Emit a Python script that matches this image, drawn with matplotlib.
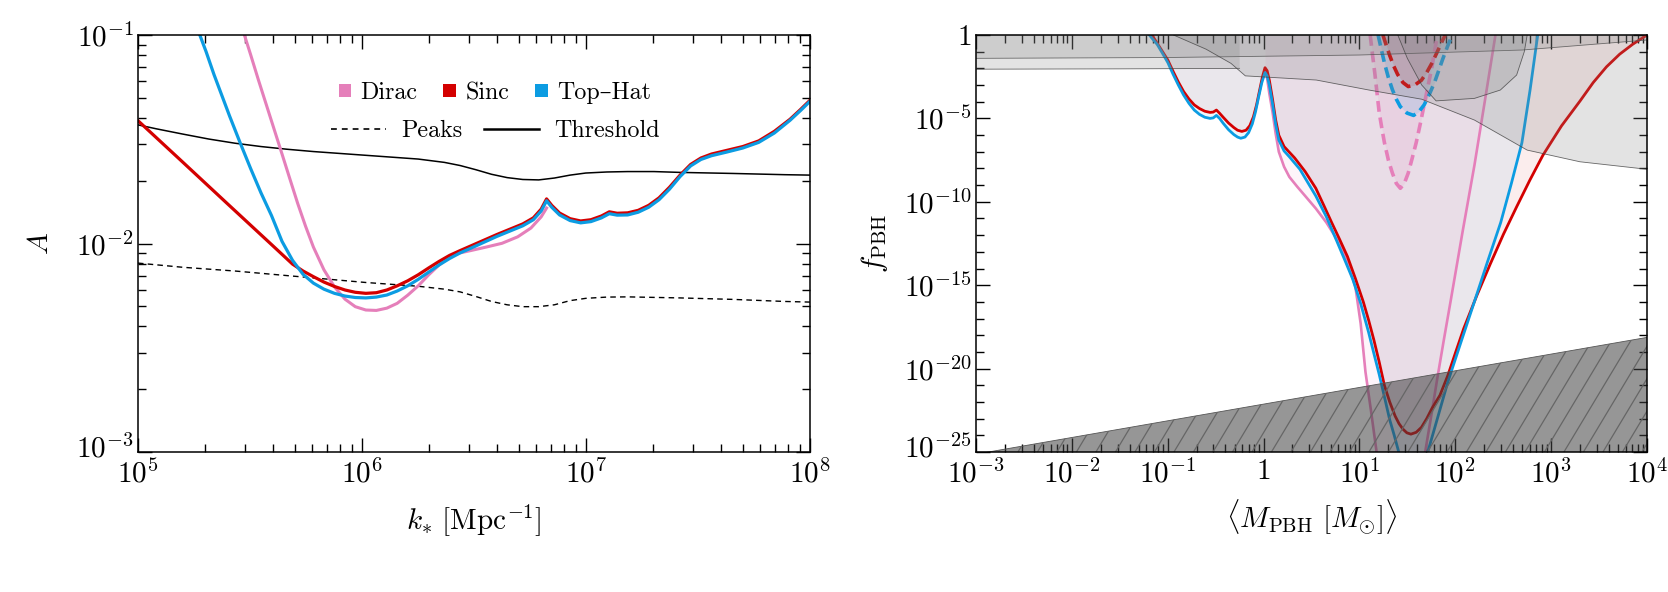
import numpy as np
import matplotlib
matplotlib.use('Agg')
import matplotlib.pyplot as plt
import matplotlib.transforms as mtrans
from matplotlib.patches import Patch
from matplotlib.lines import Line2D
from matplotlib.collections import LineCollection
from matplotlib.ticker import LogLocator, FixedLocator, NullFormatter

plt.rcParams['mathtext.fontset'] = 'cm'
plt.rcParams['font.family'] = ['cmr10', 'DejaVu Serif']
plt.rcParams['axes.formatter.use_mathtext'] = True
plt.rcParams['axes.unicode_minus'] = False

# ---------------- Left panel data (log10 values) -------------
logk_thr = [5.0, 5.082, 5.199, 5.316, 5.433, 5.549, 5.666, 5.783, 5.9, 6.017, 6.134, 6.251, 6.368,
            6.438, 6.508, 6.578, 6.648, 6.718, 6.789, 6.859, 6.929, 6.999, 7.093, 7.186, 7.303,
            7.42, 7.654, 7.888, 8.0]
logA_thr = [-1.431, -1.45, -1.475, -1.499, -1.519, -1.535, -1.548, -1.559, -1.568, -1.577, -1.586,
            -1.595, -1.611, -1.626, -1.646, -1.668, -1.684, -1.693, -1.695, -1.686, -1.672, -1.662,
            -1.657, -1.655, -1.655, -1.659, -1.664, -1.67, -1.672]

logk_peaks = [5.0, 5.199, 5.433, 5.666, 5.9, 6.017, 6.134, 6.251, 6.368, 6.438, 6.508, 6.578, 6.648,
              6.718, 6.789, 6.859, 6.929, 6.999, 7.093, 7.186, 7.42, 7.654, 7.888, 8.0]
logA_peaks = [-2.094, -2.114, -2.132, -2.154, -2.176, -2.187, -2.196, -2.205, -2.219, -2.232, -2.254,
              -2.278, -2.294, -2.303, -2.303, -2.294, -2.274, -2.263, -2.257, -2.256, -2.261, -2.268,
              -2.278, -2.281]

logk_sinc = [5.0, 5.2, 5.4, 5.6, 5.69, 5.737, 5.783, 5.83, 5.877, 5.924, 5.97, 6.017, 6.064, 6.111,
             6.157, 6.204, 6.251, 6.298, 6.344, 6.391, 6.438, 6.485, 6.602, 6.718, 6.765, 6.8, 6.824,
             6.847, 6.882, 6.929, 6.976, 7.022, 7.069, 7.104, 7.139, 7.186, 7.233, 7.28, 7.326,
             7.373, 7.42, 7.467, 7.513, 7.56, 7.63, 7.7, 7.771, 7.841, 7.911, 7.958, 8.0]
logA_sinc = [-1.411, -1.61, -1.81, -2.009, -2.099, -2.132, -2.159, -2.185, -2.206, -2.223, -2.234,
             -2.239, -2.236, -2.223, -2.203, -2.179, -2.15, -2.117, -2.086, -2.057, -2.034, -2.012,
             -1.957, -1.906, -1.877, -1.835, -1.786, -1.817, -1.854, -1.881, -1.892, -1.886, -1.868,
             -1.848, -1.855, -1.853, -1.841, -1.817, -1.781, -1.73, -1.672, -1.621, -1.59, -1.571,
             -1.553, -1.535, -1.508, -1.462, -1.404, -1.357, -1.313]

logk_top = [5.276, 5.304, 5.339, 5.374, 5.409, 5.456, 5.503, 5.549, 5.596, 5.643, 5.69, 5.737, 5.783,
            5.83, 5.877, 5.924, 5.97, 6.017, 6.064, 6.111, 6.157, 6.204, 6.251, 6.298, 6.344, 6.391,
            6.438, 6.485, 6.602, 6.718, 6.765, 6.8, 6.824, 6.847, 6.882, 6.929, 6.976, 7.022, 7.069,
            7.104, 7.139, 7.186, 7.233, 7.28, 7.326, 7.373, 7.42, 7.467, 7.513, 7.56, 7.63, 7.7,
            7.771, 7.841, 7.911, 7.958, 8.0]
logA_top = [-1.0, -1.08, -1.189, -1.289, -1.389, -1.517, -1.641, -1.757, -1.866, -1.99, -2.081,
            -2.148, -2.19, -2.219, -2.239, -2.252, -2.259, -2.261, -2.257, -2.247, -2.228, -2.203,
            -2.172, -2.137, -2.103, -2.072, -2.045, -2.023, -1.966, -1.915, -1.886, -1.844, -1.795,
            -1.826, -1.863, -1.89, -1.901, -1.895, -1.877, -1.857, -1.864, -1.863, -1.85, -1.826,
            -1.79, -1.739, -1.679, -1.628, -1.597, -1.579, -1.561, -1.542, -1.515, -1.47, -1.409,
            -1.362, -1.318]

logk_dirac = [5.475, 5.503, 5.538, 5.573, 5.608, 5.643, 5.678, 5.713, 5.748, 5.783, 5.83, 5.877,
              5.924, 5.97, 6.017, 6.064, 6.111, 6.157, 6.204, 6.251, 6.298, 6.344, 6.391, 6.438,
              6.485, 6.555, 6.625, 6.695, 6.754, 6.8, 6.824]
logA_dirac = [-1.0, -1.095, -1.217, -1.335, -1.453, -1.571, -1.69, -1.808, -1.917, -2.017, -2.126,
              -2.208, -2.267, -2.303, -2.319, -2.321, -2.31, -2.287, -2.248, -2.203, -2.15, -2.103,
              -2.063, -2.045, -2.034, -2.017, -1.999, -1.968, -1.926, -1.872, -1.83]

# ---------------- Right panel data (log10 M, log10 f) -------------
logM_sinc = [-1.164, -1.109, -1.054, -0.999, -0.944, -0.889, -0.834, -0.778, -0.723, -0.668, -0.613,
             -0.558, -0.525, -0.492, -0.459, -0.42, -0.365, -0.31, -0.271, -0.227, -0.183, -0.144,
             -0.106, -0.073, -0.04, -0.012, 0.015, 0.037, 0.06, 0.093, 0.126, 0.159, 0.214, 0.269,
             0.324, 0.434, 0.545, 0.627, 0.71, 0.793, 0.875, 0.958, 1.041, 1.096, 1.151, 1.206,
             1.261, 1.316, 1.372, 1.413, 1.454, 1.495, 1.537, 1.592, 1.647, 1.702, 1.757, 1.84,
             1.923, 2.005, 2.088, 2.226, 2.364, 2.502, 2.64, 2.778, 2.915, 3.108, 3.301, 3.439,
             3.577, 3.715, 3.852, 4.0]
logf_sinc = [0.0, -0.5, -1.0, -1.5, -2.18, -2.82, -3.39, -3.84, -4.19, -4.41, -4.57, -4.64, -4.62,
             -4.5, -4.69, -4.94, -5.28, -5.55, -5.71, -5.78, -5.71, -5.44, -4.91, -4.19, -3.28,
             -2.52, -1.96, -2.14, -2.71, -3.84, -5.09, -6.01, -6.69, -7.03, -7.37, -8.19, -9.19,
             -10.2, -11.24, -12.25, -13.28, -14.6, -16.01, -17.1, -18.29, -19.6, -21.02, -22.0,
             -22.84, -23.3, -23.63, -23.85, -23.93, -23.82, -23.52, -23.0, -22.38, -21.6, -20.4,
             -19.0, -17.6, -15.6, -13.74, -11.95, -10.3, -8.7, -7.2, -5.45, -3.96, -2.85, -1.91,
             -1.15, -0.55, 0.0]

logM_top = [-1.192, -1.109, -1.054, -0.999, -0.944, -0.889, -0.834, -0.778, -0.723, -0.668, -0.613,
            -0.558, -0.525, -0.492, -0.459, -0.42, -0.365, -0.31, -0.271, -0.238, -0.194, -0.156,
            -0.117, -0.084, -0.051, -0.018, 0.015, 0.037, 0.06, 0.093, 0.126, 0.159, 0.214, 0.269,
            0.379, 0.545, 0.655, 0.765, 0.848, 0.931, 1.013, 1.096, 1.151, 1.206, 1.261, 1.316,
            1.363, 1.41, 1.56, 1.713, 1.818, 1.923, 2.06, 2.198, 2.336, 2.474, 2.585, 2.695, 2.78,
            2.86]
logf_top = [0.0, -0.57, -1.1, -1.65, -2.35, -3.0, -3.6, -4.1, -4.5, -4.76, -4.93, -5.0, -4.97,
            -4.82, -5.0, -5.3, -5.68, -5.97, -6.12, -6.19, -6.12, -5.85, -5.32, -4.6, -3.7, -2.85,
            -2.25, -2.45, -3.0, -4.1, -5.35, -6.3, -6.95, -7.3, -8.05, -9.65, -10.9, -12.37, -13.5,
            -14.65, -16.1, -17.83, -19.1, -20.34, -21.7, -23.07, -24.0, -25.0, -28.0, -25.0, -22.9,
            -20.79, -18.4, -16.01, -13.6, -11.24, -8.9, -6.46, -3.3, 0.0]

logM_dirac = [0.015, 0.037, 0.06, 0.093, 0.126, 0.159, 0.214, 0.269, 0.352, 0.434, 0.545, 0.655,
              0.738, 0.82, 0.889, 0.958, 1.013, 1.063, 1.12, 1.179, 1.43, 1.686, 1.75, 1.813, 1.883,
              1.953, 2.076, 2.2, 2.31, 2.419]
logf_dirac = [-2.1, -2.6, -3.5, -4.6, -5.9, -7.0, -7.9, -8.51, -9.1, -9.65, -10.4, -11.24, -12.0,
              -12.83, -13.9, -15.1, -17.3, -20.2, -22.5, -25.0, -28.0, -25.0, -22.8, -20.56, -18.2,
              -15.9, -11.8, -7.8, -3.9, 0.0]

logM_dirac_pk = [1.112, 1.137, 1.162, 1.184, 1.206, 1.234, 1.261, 1.302, 1.344, 1.385, 1.427, 1.468,
                 1.509, 1.55, 1.592, 1.634, 1.675, 1.716, 1.757, 1.785, 1.813]
logf_dirac_pk = [0.0, -1.2, -2.37, -3.5, -4.64, -5.6, -6.46, -7.5, -8.28, -8.9, -9.19, -8.9, -8.28,
                 -7.4, -6.46, -5.35, -4.19, -3.05, -1.91, -0.95, 0.0]

logM_top_pk = [1.195, 1.228, 1.261, 1.302, 1.344, 1.385, 1.427, 1.496, 1.565, 1.62, 1.675, 1.73,
               1.785, 1.826, 1.868, 1.918, 1.967]
logf_top_pk = [0.0, -0.85, -1.68, -2.55, -3.28, -3.85, -4.3, -4.68, -4.82, -4.6, -4.19, -3.55, -2.82,
               -2.15, -1.46, -0.7, 0.0]

logM_sinc_pk = [1.245, 1.28, 1.316, 1.357, 1.399, 1.454, 1.509, 1.578, 1.647, 1.702, 1.757, 1.813,
                1.868, 1.895]
logf_sinc_pk = [0.0, -0.62, -1.23, -1.85, -2.37, -2.85, -3.09, -3.0, -2.71, -2.25, -1.68, -1.0,
                -0.32, 0.0]

# observational constraints (lower boundaries, excluded region extends to f=1)
logM_conA = [-3.0, -1.0, 1.0, 2.7, 4.0]
logf_conA = [-1.40, -1.35, -1.20, -0.90, -0.30]
logM_conB = [-3.0, -1.5, -0.25]
logf_conB = [-2.05, -2.03, -2.0]
logM_conC = [-0.94, -0.6, -0.34, -0.19, 0.55, 1.1, 1.65, 2.2, 2.75, 3.3, 4.0]
logf_conC = [0.0, -0.85, -1.7, -2.45, -2.7, -3.3, -3.85, -5.1, -6.9, -7.6, -8.05]
logM_conD = [1.40, 1.5, 1.65, 1.8, 2.2, 2.47, 2.64, 2.72, 2.75]
logf_conD = [0.0, -1.4, -3.0, -3.95, -3.8, -3.3, -2.4, -1.0, 0.0]

# hatched lower bound
logM_hatch = [-3.0, 4.0]
logf_hatch = [-25.13, -18.13]

c_dirac = '#E57FBA'
c_sinc = '#D40000'
c_top = '#0C9CE2'

p = lambda a: np.power(10.0, np.asarray(a, dtype=float))

fig = plt.figure(figsize=(16.68, 5.92), dpi=100)
ax1 = fig.add_axes([138/1668, 1-452/592, 672/1668, 417/592])
ax2 = fig.add_axes([976/1668, 1-452/592, 671/1668, 417/592])

LAB = 21
TICK = 21
LEG = 17.3

# ---------------- Left panel -----------------
ax1.plot(p(logk_thr), p(logA_thr), color='k', lw=1.1)
ax1.plot(p(logk_peaks), p(logA_peaks), color='k', lw=1.0, ls=(0, (4, 3)))
ax1.plot(p(logk_dirac), p(logA_dirac), color=c_dirac, lw=2.2, solid_joinstyle='round')
ax1.plot(p(logk_sinc), p(logA_sinc), color=c_sinc, lw=2.3, solid_joinstyle='round')
ax1.plot(p(logk_top), p(logA_top), color=c_top, lw=2.3, solid_joinstyle='round')
ax1.set_xscale('log'); ax1.set_yscale('log')
ax1.set_xlim(1e5, 1e8); ax1.set_ylim(1e-3, 1e-1)
ax1.set_xlabel(r'$k_{*}\ [\mathrm{Mpc}^{-1}]$', fontsize=LAB)
ax1.set_ylabel(r'$A$', fontsize=LAB)
ax1.xaxis.set_label_coords(0.5, -0.163)
ax1.xaxis.label.set_va('center')
ax1.yaxis.set_label_coords(-0.144, 0.5)
ax1.yaxis.label.set_va('center')
ax1.set_yticks([1e-3, 1e-2, 1e-1])
ax1.set_yticklabels([r'$10^{-3}$', r'$10^{-2}$', r'$10^{-1}$'])
ax1.set_xticks([1e5, 1e6, 1e7, 1e8])
ax1.set_xticklabels([r'$10^{5}$', r'$10^{6}$', r'$10^{7}$', r'$10^{8}$'])

h1 = [Patch(facecolor=c, edgecolor='none') for c in (c_dirac, c_sinc, c_top)]
leg1 = ax1.legend(h1, ['Dirac', 'Sinc', 'Top\u2013Hat'], ncol=3, frameon=False, loc='center',
                  bbox_to_anchor=(0.531, 0.861), fontsize=LEG, handlelength=0.53, handleheight=0.42,
                  handletextpad=0.38, columnspacing=1.08, borderpad=0, borderaxespad=0)
ax1.add_artist(leg1)
h2 = [Line2D([], [], color='k', lw=1.2, ls=(0, (3.5, 3))), Line2D([], [], color='k', lw=1.8)]
ax1.legend(h2, ['Peaks', 'Threshold'], ncol=2, frameon=False, loc='center',
           bbox_to_anchor=(0.532, 0.770), fontsize=LEG, handlelength=2.3,
           handletextpad=0.63, columnspacing=0.88, borderpad=0, borderaxespad=0)

# ---------------- Right panel -----------------
for lm, lf, c in ((logM_dirac, logf_dirac, c_dirac), (logM_sinc, logf_sinc, c_sinc), (logM_top, logf_top, c_top)):
    ax2.fill_between(p(lm), p(lf), 1.0, color=c, alpha=0.07, lw=0, zorder=1)
for lm, lf, c in ((logM_dirac_pk, logf_dirac_pk, c_dirac), (logM_top_pk, logf_top_pk, c_top), (logM_sinc_pk, logf_sinc_pk, c_sinc)):
    ax2.fill_between(p(lm), p(lf), 1.0, color=c, alpha=0.12, lw=0, zorder=1)

ax2.plot(p(logM_dirac), p(logf_dirac), color=c_dirac, lw=1.9, zorder=3, solid_joinstyle='round')
ax2.plot(p(logM_sinc), p(logf_sinc), color=c_sinc, lw=2.0, zorder=3, solid_joinstyle='round')
ax2.plot(p(logM_top), p(logf_top), color=c_top, lw=2.0, zorder=3, solid_joinstyle='round')
ax2.plot(p(logM_dirac_pk), p(logf_dirac_pk), color=c_dirac, lw=2.6, ls=(0, (3, 1.6)), zorder=3)
ax2.plot(p(logM_top_pk), p(logf_top_pk), color=c_top, lw=2.6, ls=(0, (3, 1.6)), zorder=3)
ax2.plot(p(logM_sinc_pk), p(logf_sinc_pk), color=c_sinc, lw=2.6, ls=(0, (3, 1.6)), zorder=3)

for lm, lf in ((logM_conA, logf_conA), (logM_conB, logf_conB), (logM_conC, logf_conC), (logM_conD, logf_conD)):
    ax2.fill_between(p(lm), p(lf), 1.0, facecolor='gray', alpha=0.22, lw=0, zorder=4)
    ax2.plot(p(lm), p(lf), color='#444444', lw=0.6, alpha=0.8, zorder=4)

hpoly = ax2.fill_between(p(logM_hatch), 1e-30, p(logf_hatch), facecolor=(0.25, 0.25, 0.25, 0.55),
                         lw=0, zorder=5)
ax2.plot(p(logM_hatch), p(logf_hatch), color='#555555', lw=0.6, zorder=5)
# steep hatch lines, clipped to the region
W_px, H_px = 671.0, 417.0
run = H_px / np.tan(np.deg2rad(59))
segs = [[(x0 / W_px, 0.0), ((x0 + run) / W_px, 1.0)] for x0 in np.arange(-run, W_px + 20, 19.5)]
lc = LineCollection(segs, transform=ax2.transAxes, colors='#666666', linewidths=0.9, zorder=5.5)
lc.set_clip_path(hpoly.get_paths()[0], ax2.transData)
ax2.add_collection(lc)

ax2.set_xscale('log'); ax2.set_yscale('log')
ax2.set_xlim(1e-3, 1e4); ax2.set_ylim(1e-25, 1)
ax2.set_xlabel(r'$\langle M_{\mathrm{PBH}}\ [M_{\odot}]\rangle$', fontsize=LAB)
ax2.set_ylabel(r'$f_{\mathrm{PBH}}$', fontsize=LAB)
ax2.xaxis.set_label_coords(0.5, -0.158)
ax2.xaxis.label.set_va('center')
ax2.yaxis.set_label_coords(-0.152, 0.5)
ax2.yaxis.label.set_va('center')

xt = [1e-3, 1e-2, 1e-1, 1, 10, 100, 1e3, 1e4]
ax2.set_xticks(xt)
ax2.set_xticklabels([r'$10^{-3}$', r'$10^{-2}$', r'$10^{-1}$', r'$1$', r'$10^{1}$', r'$10^{2}$', r'$10^{3}$', r'$10^{4}$'])
ax2.xaxis.set_minor_locator(LogLocator(base=10, subs=np.arange(2, 10), numticks=50))
ax2.xaxis.set_minor_formatter(NullFormatter())
yt = [1e-25, 1e-20, 1e-15, 1e-10, 1e-5, 1]
ax2.set_yticks(yt)
ax2.set_yticklabels([r'$10^{-25}$', r'$10^{-20}$', r'$10^{-15}$', r'$10^{-10}$', r'$10^{-5}$', r'$1$'])
ax2.yaxis.set_minor_locator(FixedLocator([10.0**(-i) for i in range(1, 25) if i % 5]))
ax2.yaxis.set_minor_formatter(NullFormatter())

ax1.xaxis.set_minor_locator(LogLocator(base=10, subs=np.arange(2, 10), numticks=50))
ax1.yaxis.set_minor_locator(LogLocator(base=10, subs=np.arange(2, 10), numticks=50))
ax1.xaxis.set_minor_formatter(NullFormatter())
ax1.yaxis.set_minor_formatter(NullFormatter())

for ax in (ax1, ax2):
    ax.tick_params(which='both', direction='in', top=True, right=True, labelsize=TICK, width=1.0)
    ax.tick_params(which='major', length=10, pad=3)
    ax.tick_params(axis='x', which='major', pad=5)
    ax.tick_params(which='minor', length=6)
    for s in ax.spines.values():
        s.set_linewidth(1.1)
        s.set_zorder(10)

# nudge the lowest y tick label up a little so it clears the first x tick label
fig.canvas.draw()
off = mtrans.ScaledTranslation(0, 4.5 / 72, fig.dpi_scale_trans)
for ax, v in ((ax1, 1e-3), (ax2, 1e-25)):
    for t in ax.yaxis.get_major_ticks():
        if np.isclose(np.log10(t.get_loc()), np.log10(v)):
            t.label1.set_transform(t.label1.get_transform() + off)

fig.savefig('out.png', dpi=100)
